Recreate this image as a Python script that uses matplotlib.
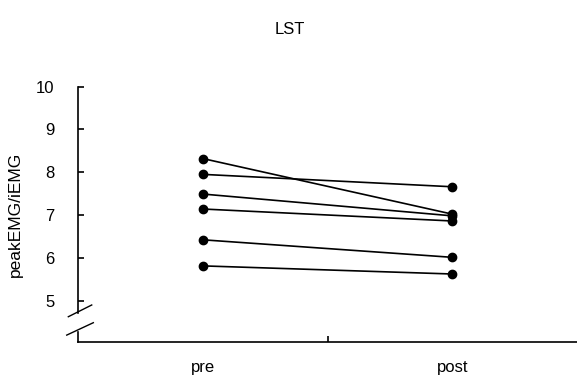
import numpy as np
import matplotlib.pyplot as plt

plt.rcParams['font.family'] = ['Liberation Sans', 'DejaVu Sans']

conditions = ['pre', 'post']
pre_vals = [8.32, 7.95, 7.49, 7.14, 6.42, 5.81]
post_vals = [7.02, 7.66, 6.98, 6.86, 6.01, 5.62]

fig = plt.figure(figsize=(5.77, 3.83), dpi=100)
ax = fig.add_axes([78/577, 1 - 342/383, 1 - 78/577, (342 - 86.7)/383])

xpos = [0.5, 1.5]
for a, b in zip(pre_vals, post_vals):
    ax.plot(xpos, [a, b], color='black', lw=1.2, marker='o', ms=6,
            mfc='black', mec='black', clip_on=False)

ax.set_xlim(0, 2)
ax.set_ylim(4.03, 10)

for s in ['top', 'right']:
    ax.spines[s].set_visible(False)
ax.spines['left'].set_bounds(4.7, 10)
ax.spines['left'].set_linewidth(1.2)
ax.spines['bottom'].set_linewidth(1.2)

# stub of the y axis under the break, and the break marks
tr = ax.transAxes
ax.plot([0, 0], [0, 0.039], color='black', lw=1.2, transform=tr, clip_on=False)
ax.plot([-0.0194, 0.0275], [0.099, 0.145], color='black', lw=1.0, transform=tr, clip_on=False)
ax.plot([-0.0226, 0.0307], [0.027, 0.0756], color='black', lw=1.0, transform=tr, clip_on=False)

ax.set_yticks([5, 6, 7, 8, 9, 10])
ax.tick_params(axis='y', direction='in', length=4, width=1.2, pad=17, labelsize=12)

ax.set_xticks([1])
ax.set_xticklabels([''])
ax.set_xticks(xpos, minor=True)
ax.set_xticklabels(conditions, minor=True)
ax.tick_params(axis='x', which='major', direction='in', length=4, width=1.2)
ax.tick_params(axis='x', which='minor', length=0, pad=13, labelsize=12)

ax.set_ylabel('peakEMG/iEMG', fontsize=12.5, labelpad=9)
fig.text(290/577, 1 - 30/383, 'LST', ha='center', va='center', fontsize=12)

fig.savefig('out.png', dpi=100)
